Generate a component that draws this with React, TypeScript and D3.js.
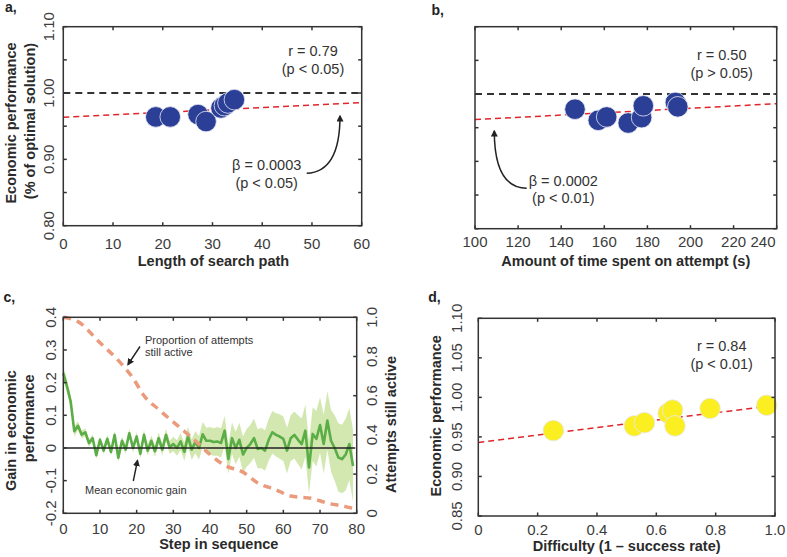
import React from 'react';
import * as d3 from 'd3';

const FONT = '"Liberation Sans", Arial, Helvetica, sans-serif';

// ---------- Panel a: length of search path ----------
const searchLength = [18.6, 21.5, 27.1, 28.7, 31.7, 32.4, 33.1, 34.4];
const perfA = [0.964, 0.964, 0.9675, 0.957, 0.9775, 0.981, 0.985, 0.99];
const fitA = { intercept: 0.9635, slope: 0.000367 };
const ticksAx = [0, 10, 20, 30, 40, 50, 60];
const ticksPerf = [0.8, 0.85, 0.9, 0.95, 1.0, 1.05, 1.1];
const labelsPerf = [0.8, 0.9, 1.0, 1.1];

// ---------- Panel b: time spent ----------
const timeSpent = [146.4, 157.2, 161.1, 171.1, 177.3, 178.1, 193.0, 194.1];
const perfB = [0.9775, 0.961, 0.966, 0.957, 0.965, 0.9825, 0.9875, 0.981];
const fitB = { intercept: 0.9451, slope: 0.000169 };
const ticksBx = [100, 120, 140, 160, 180, 200, 220, 240];

// ---------- Panel c: step in sequence ----------
const gainMean = [
  0.229, 0.189, 0.143, 0.051, 0.068, 0.041, 0.048, 0.015, 0.03, -0.022,
  0.025, -0.008, 0.028, -0.012, 0.04, -0.03, 0.022, -0.005, 0.045, 0.0,
  0.035, -0.018, 0.04, -0.008, 0.022, -0.01, 0.03, -0.005, 0.04, 0.002,
  0.012, 0.0, 0.02, -0.012, 0.036, -0.005, 0.018, 0.0, 0.042, 0.022,
  0.022, 0.018, 0.02, 0.015, 0.053, -0.034, 0.03, 0.0, 0.025, -0.02,
  0.0, 0.012, 0.03, -0.003, 0.0, -0.008, 0.025, 0.048, 0.04, 0.035,
  0.028, -0.008, 0.03, 0.04, 0.025, 0.012, 0.053, -0.06, 0.043, 0.028,
  0.07, 0.012, 0.084, 0.022, 0.0, -0.029, -0.034, -0.02, 0.012, -0.055,
];
const gainErr = [
  0.02, 0.02, 0.018, 0.016, 0.014, 0.012, 0.012, 0.011, 0.011, 0.011,
  0.011, 0.011, 0.012, 0.012, 0.012, 0.013, 0.013, 0.013, 0.014, 0.014,
  0.014, 0.015, 0.015, 0.016, 0.016, 0.017, 0.018, 0.018, 0.019, 0.02,
  0.022, 0.024, 0.026, 0.028, 0.03, 0.032, 0.034, 0.036, 0.038, 0.04,
  0.042, 0.042, 0.044, 0.045, 0.046, 0.046, 0.048, 0.05, 0.052, 0.055,
  0.058, 0.058, 0.06, 0.06, 0.062, 0.062, 0.064, 0.065, 0.066, 0.068,
  0.068, 0.07, 0.07, 0.072, 0.075, 0.078, 0.08, 0.08, 0.082, 0.085,
  0.085, 0.09, 0.09, 0.095, 0.1, 0.105, 0.105, 0.11, 0.11, 0.11,
];
const activeStep = [0, 4, 10, 15, 19, 22, 26, 31, 36, 40, 44, 49, 53, 58, 62, 68, 72, 77, 79];
const activeProp = [1.0, 0.978, 0.87, 0.78, 0.69, 0.6, 0.53, 0.45, 0.37, 0.3, 0.245, 0.21, 0.155, 0.12, 0.088, 0.075, 0.052, 0.034, 0.025];
const ticksCx = [0, 10, 20, 30, 40, 50, 60, 70, 80];
const ticksGain = [-0.2, -0.1, 0, 0.1, 0.2, 0.3, 0.4];
const ticksActive = [0, 0.2, 0.4, 0.6, 0.8, 1.0];

// ---------- Panel d: difficulty ----------
const difficulty = [0.253, 0.526, 0.56, 0.64, 0.655, 0.663, 0.781, 0.972];
const perfD = [0.958, 0.964, 0.968, 0.98, 0.984, 0.964, 0.986, 0.99];
const fitD = { intercept: 0.943, slope: 0.047 };
const ticksDx = [0, 0.2, 0.4, 0.6, 0.8, 1.0];
const ticksDy = [0.85, 0.9, 0.95, 1.0, 1.05, 1.1];

// ---------- scales ----------
const xA = d3.scaleLinear().domain([0, 60]).range([63.3, 361.7]);
const yA = d3.scaleLinear().domain([0.8, 1.1]).range([225.7, 26.7]);
const xB = d3.scaleLinear().domain([100, 240]).range([475, 776.7]);
const yB = d3.scaleLinear().domain([0.8, 1.1]).range([228.7, 26.7]);
const xC = d3.scaleLinear().domain([0, 80]).range([63.3, 356.7]);
const yC = d3.scaleLinear().domain([-0.2, 0.4]).range([513.3, 317.3]);
const yCR = d3.scaleLinear().domain([0, 1]).range([513.3, 317.3]);
const xD = d3.scaleLinear().domain([0, 1]).range([478.3, 775]);
const yD = d3.scaleLinear().domain([0.85, 1.1]).range([516, 318.3]);

const TICK = 3.5;
const FRAME = '#333';
const TICKTXT = '#3c3c3c';

type S = d3.ScaleLinear<number, number>;

function Frame({ x, y, xt, yt, yr, yrt }: { x: S; y: S; xt: number[]; yt: number[]; yr?: S; yrt?: number[] }) {
  const [x0, x1] = x.range();
  const [y0, y1] = y.range(); // y0 bottom, y1 top
  const rightScale = yr || y;
  const rightTicks = yrt || yt;
  return (
    <g stroke={FRAME} strokeWidth={1.5} fill="none">
      {xt.map((t, i) => (
        <g key={'x' + i}>
          <line x1={x(t)} x2={x(t)} y1={y0} y2={y0 - TICK} />
          <line x1={x(t)} x2={x(t)} y1={y1} y2={y1 + TICK} />
        </g>
      ))}
      {yt.map((t, i) => (
        <line key={'yl' + i} x1={x0} x2={x0 + TICK} y1={y(t)} y2={y(t)} />
      ))}
      {rightTicks.map((t, i) => (
        <line key={'yr' + i} x1={x1} x2={x1 - TICK} y1={rightScale(t)} y2={rightScale(t)} />
      ))}
      <rect x={x0} y={y1} width={x1 - x0} height={y0 - y1} />
    </g>
  );
}

function XLabels({ x, ticks, baseline, fmt, lastEnd }: { x: S; ticks: number[]; baseline: number; fmt: (v: number) => string; lastEnd?: number }) {
  return (
    <g fontSize={15} fill={TICKTXT} textAnchor="middle">
      {ticks.map((t, i) => {
        const isLast = lastEnd !== undefined && i === ticks.length - 1;
        return (
          <text key={i} x={isLast ? lastEnd : x(t)} y={baseline} textAnchor={isLast ? 'end' : 'middle'}>
            {fmt(t)}
          </text>
        );
      })}
    </g>
  );
}

function YLabels({ y, ticks, bx, fmt }: { y: S; ticks: number[]; bx: number; fmt: (v: number) => string }) {
  return (
    <g fontSize={15} fill={TICKTXT} textAnchor="middle">
      {ticks.map((t, i) => (
        <text key={i} transform={`translate(${bx},${y(t)}) rotate(-90)`}>{fmt(t)}</text>
      ))}
    </g>
  );
}

function VTitle({ x, y, text }: { x: number; y: number; text: string }) {
  return (
    <text transform={`translate(${x},${y}) rotate(-90)`} textAnchor="middle" fontSize={14.5} fontWeight="bold" fill="#2a2a2a">
      {text}
    </text>
  );
}

function HTitle({ x, y, text }: { x: number; y: number; text: string }) {
  return (
    <text x={x} y={y} textAnchor="middle" fontSize={14.5} fontWeight="bold" fill="#2a2a2a">
      {text}
    </text>
  );
}

function Dots({ xs, ys, x, y, color }: { xs: number[]; ys: number[]; x: S; y: S; color: string }) {
  return (
    <g>
      {xs.map((v, i) => (
        <circle key={i} cx={x(v)} cy={y(ys[i])} r={10.3} fill={color} stroke="#e6e8f0" strokeWidth={0.8} />
      ))}
    </g>
  );
}

function FitLine({ fit, x, y }: { fit: { intercept: number; slope: number }; x: S; y: S }) {
  const [d0, d1] = x.domain();
  return (
    <line
      x1={x(d0)} y1={y(fit.intercept + fit.slope * d0)}
      x2={x(d1)} y2={y(fit.intercept + fit.slope * d1)}
      stroke="#e0262b" strokeWidth={1.5} strokeDasharray="6,4"
    />
  );
}

function RefLine({ x, y, v }: { x: S; y: S; v: number }) {
  const [d0, d1] = x.domain();
  return <line x1={x(d0)} x2={x(d1)} y1={y(v)} y2={y(v)} stroke="#333" strokeWidth={2} strokeDasharray="7,5" />;
}

export default function App() {
  const f2 = (v: number) => v.toFixed(2);
  const fInt = (v: number) => String(v);
  const f1 = (v: number) => (v === 0 ? '0' : v.toFixed(1));

  const steps = gainMean.map((_, i) => i);
  const band = d3
    .area<number>()
    .x((i) => xC(i))
    .y0((i) => yC(gainMean[i] - gainErr[i]))
    .y1((i) => yC(gainMean[i] + gainErr[i]));
  const gainLine = d3
    .line<number>()
    .x((i) => xC(i))
    .y((i) => yC(gainMean[i]));
  const activeLine = d3
    .line<number>()
    .x((i) => xC(activeStep[i]))
    .y((i) => yCR(activeProp[i]))
    .curve(d3.curveMonotoneX);

  return (
    <svg
      width={787}
      height={557}
      style={{ position: 'absolute', left: 0, top: 0, background: '#fff' }}
      fontFamily={FONT}
    >
      <defs>
        <marker id="ah" viewBox="0 0 10 10" refX="8" refY="5" markerWidth="7" markerHeight="7" markerUnits="userSpaceOnUse" orient="auto">
          <path d="M0,0 L10,5 L0,10 z" fill="#222" />
        </marker>
      </defs>
      <rect x={0} y={0} width={787} height={557} fill="#fff" />

      {/* ---------------- Panel a ---------------- */}
      <text x={5} y={12} fontSize={14} fontWeight="bold" fill="#222">a,</text>
      <RefLine x={xA} y={yA} v={1.0} />
      <FitLine fit={fitA} x={xA} y={yA} />
      <Dots xs={searchLength} ys={perfA} x={xA} y={yA} color="#2c3f97" />
      <Frame x={xA} y={yA} xt={ticksAx} yt={ticksPerf} />
      <XLabels x={xA} ticks={ticksAx} baseline={249} fmt={fInt} />
      <YLabels y={yA} ticks={labelsPerf} bx={53.5} fmt={f2} />
      <VTitle x={15.5} y={123} text="Economic performance" />
      <VTitle x={35} y={121} text="(% of optimal solution)" />
      <HTitle x={xA(30) + 1} y={266} text="Length of search path" />
      <g fontSize={14.5} fill="#333" textAnchor="middle">
        <text x={313} y={56}>r = 0.79</text>
        <text x={313} y={74}>(p &lt; 0.05)</text>
        <text x={266.7} y={170}>β = 0.0003</text>
        <text x={266.7} y={188}>(p &lt; 0.05)</text>
      </g>
      <path d="M306.7,173.3 Q340,172 340,116" fill="none" stroke="#222" strokeWidth={1.5} markerEnd="url(#ah)" />

      {/* ---------------- Panel b ---------------- */}
      <text x={431.5} y={15} fontSize={14} fontWeight="bold" fill="#222">b,</text>
      <RefLine x={xB} y={yB} v={1.0} />
      <FitLine fit={fitB} x={xB} y={yB} />
      <Dots xs={timeSpent} ys={perfB} x={xB} y={yB} color="#2c3f97" />
      <Frame x={xB} y={yB} xt={ticksBx} yt={ticksPerf} />
      <XLabels x={xB} ticks={ticksBx} baseline={247} fmt={fInt} lastEnd={775.5} />
      <HTitle x={625.8} y={266} text="Amount of time spent on attempt (s)" />
      <g fontSize={14.5} fill="#333" textAnchor="middle">
        <text x={721.7} y={59.5}>r = 0.50</text>
        <text x={721.7} y={77.5}>(p &gt; 0.05)</text>
        <text x={563.3} y={186}>β = 0.0002</text>
        <text x={563.3} y={203}>(p &lt; 0.01)</text>
      </g>
      <path d="M526.7,188.3 Q494.3,188 494.3,131" fill="none" stroke="#222" strokeWidth={1.5} markerEnd="url(#ah)" />

      {/* ---------------- Panel c ---------------- */}
      <text x={3.5} y={301.7} fontSize={14} fontWeight="bold" fill="#222">c,</text>
      <path d={band(steps) || ''} fill="#d3e8b1" />
      <path d={gainLine(steps) || ''} fill="none" stroke="#5bad46" strokeWidth={2.6} strokeLinejoin="round" />
      <line x1={xC(0)} x2={xC(79.6)} y1={yC(0)} y2={yC(0)} stroke="#222" strokeWidth={1.5} />
      <path
        d={activeLine(activeStep.map((_, i) => i)) || ''}
        fill="none"
        stroke="#eb9a7c"
        strokeWidth={3.5}
        strokeDasharray="8,6"
      />
      <Frame x={xC} y={yC} xt={ticksCx} yt={ticksGain} yr={yCR} yrt={ticksActive} />
      <XLabels x={xC} ticks={ticksCx} baseline={534} fmt={fInt} />
      <YLabels y={yC} ticks={ticksGain} bx={55.5} fmt={f1} />
      <YLabels y={yCR} ticks={ticksActive} bx={377} fmt={f1} />
      <VTitle x={15.5} y={430.7} text="Gain in economic" />
      <VTitle x={33.5} y={418.3} text="performance" />
      <VTitle x={395.5} y={424.5} text="Attempts still active" />
      <HTitle x={218.8} y={549} text="Step in sequence" />
      <g fontSize={11} fill="#333">
        <text x={145} y={343.5}>Proportion of attempts</text>
        <text x={145} y={355.5}>still active</text>
        <text x={85} y={494}>Mean economic gain</text>
      </g>
      <line x1={140} y1={346.5} x2={128} y2={364.5} stroke="#222" strokeWidth={1.4} markerEnd="url(#ah)" />
      <line x1={133.3} y1={481} x2={137.5} y2={460.5} stroke="#222" strokeWidth={1.4} markerEnd="url(#ah)" />

      {/* ---------------- Panel d ---------------- */}
      <text x={428.3} y={301.7} fontSize={14} fontWeight="bold" fill="#222">d,</text>
      <FitLine fit={fitD} x={xD} y={yD} />
      <Dots xs={difficulty} ys={perfD} x={xD} y={yD} color="#fbef22" />
      <Frame x={xD} y={yD} xt={ticksDx} yt={ticksDy} />
      <XLabels x={xD} ticks={ticksDx} baseline={535} fmt={f1} />
      <YLabels y={yD} ticks={ticksDy} bx={461.5} fmt={f2} />
      <VTitle x={440.5} y={415.8} text="Economic performance" />
      <HTitle x={626.7} y={551} text="Difficulty (1 – success rate)" />
      <g fontSize={14.5} fill="#333" textAnchor="middle">
        <text x={721.7} y={351}>r = 0.84</text>
        <text x={721.7} y={369}>(p &lt; 0.01)</text>
      </g>
    </svg>
  );
}
